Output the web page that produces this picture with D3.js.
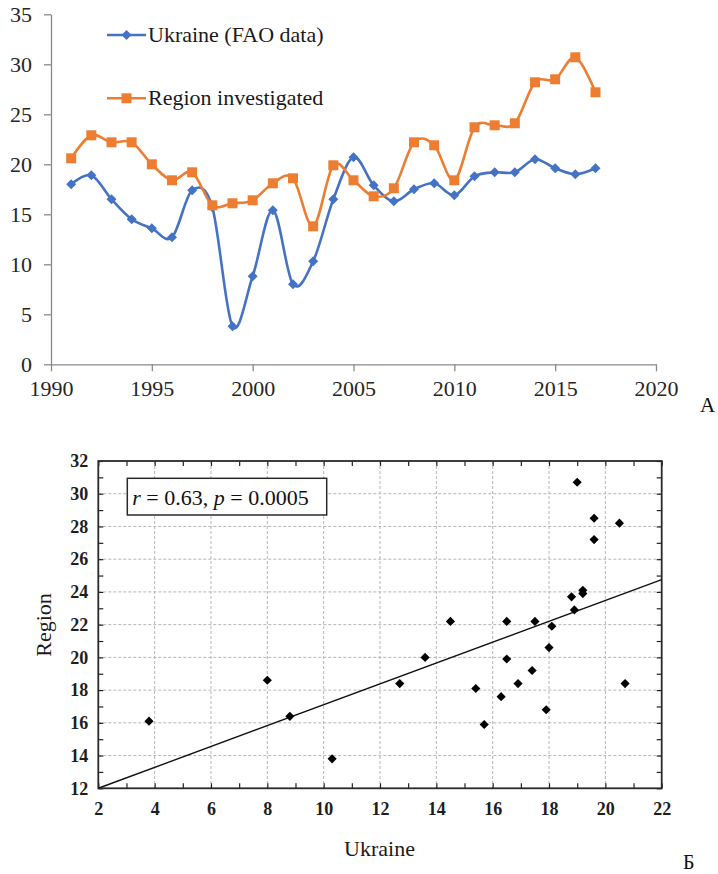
<!DOCTYPE html>
<html>
<head>
<meta charset="utf-8">
<script src="https://cdn.jsdelivr.net/npm/d3@7/dist/d3.min.js"></script>
<style>
  body { margin: 0; background: #fff; }
  svg { display: block; }
  text { font-family: "Liberation Serif", "Times New Roman", serif; }
</style>
</head>
<body>
<svg width="718" height="874"></svg>
<script>
//Data
var years = [1991, 1992, 1993, 1994, 1995, 1996, 1997, 1998, 1999, 2000, 2001, 2002, 2003, 2004,
             2005, 2006, 2007, 2008, 2009, 2010, 2011, 2012, 2013, 2014, 2015, 2016, 2017];
var ukraine = [18.0, 18.9, 16.5, 14.5, 13.6, 12.7, 17.4, 15.7, 3.8, 8.8, 15.4, 8.0, 10.3, 16.5,
               20.7, 17.9, 16.3, 17.5, 18.1, 16.9, 18.8, 19.2, 19.2, 20.5, 19.6, 19.0, 19.6];
var region = [20.6, 22.9, 22.2, 22.2, 20.0, 18.4, 19.2, 15.9, 16.1, 16.4, 18.1, 18.6, 13.8, 19.9,
              18.4, 16.8, 17.6, 22.2, 21.9, 18.4, 23.7, 23.9, 24.1, 28.2, 28.5, 30.7, 27.2];
var seriesNames = ["Ukraine (FAO data)", "Region investigated"];

//Tick labels
var yearTicks = [1990, 1995, 2000, 2005, 2010, 2015, 2020];
var valueTicks = [0, 5, 10, 15, 20, 25, 30, 35];
var ukraineTicks = [2, 4, 6, 8, 10, 12, 14, 16, 18, 20, 22];
var regionTicks = [12, 14, 16, 18, 20, 22, 24, 26, 28, 30, 32];

var blue = "#4472c4",
    orange = "#ed7d31";

var svg = d3.select("svg");

// ---------------- Chart A: time series ----------------
var xA = d3.scaleLinear().domain([1990, 2020]).range([51, 656]),
    yA = d3.scaleLinear().domain([0, 35]).range([364.3, 14.3]);

var gA = svg.append("g").attr("id", "chart-a");

//Y axis
var yAxisA = gA.append("g")
    .attr("transform", "translate(" + xA(1990) + ",0)")
    .call(d3.axisLeft(yA).tickValues(valueTicks).tickSize(7).tickSizeOuter(0).tickPadding(12));

//X axis
var xAxisA = gA.append("g")
    .attr("transform", "translate(0," + yA(0) + ")")
    .call(d3.axisBottom(xA).tickValues(yearTicks).tickSize(7).tickSizeOuter(0).tickPadding(9).tickFormat(d3.format("d")));

[yAxisA, xAxisA].forEach(function(ax) {
  ax.selectAll("path, line").attr("stroke", "#8a8a8a").attr("stroke-width", 1.3);
  ax.selectAll("text").attr("fill", "#262626").style("font-size", "22px");
});

//Smoothed lines like the Excel "smooth line" option
var lineA = d3.line()
    .curve(d3.curveCardinal)
    .x(function(d) { return xA(d.year); })
    .y(function(d) { return yA(d.value); });

var seriesA = [
  { name: seriesNames[0], color: blue, shape: "diamond",
    values: years.map(function(y, i) { return { year: y, value: ukraine[i] }; }) },
  { name: seriesNames[1], color: orange, shape: "square",
    values: years.map(function(y, i) { return { year: y, value: region[i] }; }) }
];

var diamond = d3.symbol().type(d3.symbolSquare).size(50),
    square = d3.symbol().type(d3.symbolSquare).size(100);

function markerPath(shape) { return shape === "diamond" ? diamond() : square(); }
function markerRot(shape) { return shape === "diamond" ? " rotate(45)" : ""; }

seriesA.forEach(function(s) {
  gA.append("path")
    .datum(s.values)
    .attr("fill", "none")
    .attr("stroke", s.color)
    .attr("stroke-width", 2.6)
    .attr("d", lineA);

  gA.selectAll(null)
    .data(s.values)
    .enter()
    .append("path")
    .attr("d", markerPath(s.shape))
    .attr("fill", s.color)
    .attr("transform", function(d) {
      return "translate(" + xA(d.year) + "," + yA(d.value) + ")" + markerRot(s.shape);
    });
});

//Legend
var legend = gA.selectAll(".legend")
    .data(seriesA)
    .enter()
    .append("g")
    .attr("class", "legend")
    .attr("transform", function(d, i) { return "translate(107," + (35 + i * 63.3) + ")"; });

legend.append("line")
    .attr("x1", 0).attr("x2", 39)
    .attr("stroke", function(d) { return d.color; })
    .attr("stroke-width", 2.6);
legend.append("path")
    .attr("d", function(d) { return markerPath(d.shape); })
    .attr("fill", function(d) { return d.color; })
    .attr("transform", function(d) { return "translate(19.5,0)" + markerRot(d.shape); });
legend.append("text")
    .attr("x", 41)
    .attr("y", 7)
    .attr("fill", "#1a1a1a")
    .style("font-size", "22px")
    .text(function(d) { return d.name; });

gA.append("text")
    .attr("x", 700).attr("y", 412)
    .attr("fill", "#111")
    .style("font-size", "21px")
    .text("A");

// ---------------- Chart B: scatter ----------------
var xB = d3.scaleLinear().domain([2, 22]).range([98.3, 661.7]),
    yB = d3.scaleLinear().domain([12, 32]).range([788.3, 461]);

var gB = svg.append("g").attr("id", "chart-b");

var pw = xB(22) - xB(2),
    ph = yB(12) - yB(32);

gB.append("clipPath")
    .attr("id", "clipB")
    .append("rect")
    .attr("x", xB(2)).attr("y", yB(32))
    .attr("width", pw).attr("height", ph);

//Dotted grid
gB.append("g")
    .selectAll("line")
    .data(ukraineTicks.slice(1, -1))
    .enter()
    .append("line")
    .attr("x1", function(d) { return xB(d); })
    .attr("x2", function(d) { return xB(d); })
    .attr("y1", yB(32)).attr("y2", yB(12))
    .attr("stroke", "#b5b5b5")
    .attr("stroke-dasharray", "3,2");
gB.append("g")
    .selectAll("line")
    .data(regionTicks.slice(1, -1))
    .enter()
    .append("line")
    .attr("y1", function(d) { return yB(d); })
    .attr("y2", function(d) { return yB(d); })
    .attr("x1", xB(2)).attr("x2", xB(22))
    .attr("stroke", "#b5b5b5")
    .attr("stroke-dasharray", "3,2");

//Inward ticks on all four sides (every unit)
var tickStyle = function(ax) {
  ax.select(".domain").remove();
  ax.selectAll("line").attr("stroke", "#222").attr("stroke-width", 1.2);
};
gB.append("g").attr("transform", "translate(0," + yB(12) + ")")
    .call(d3.axisBottom(xB).tickValues(xB.ticks(20)).tickSize(-5).tickFormat("")).call(tickStyle);
gB.append("g").attr("transform", "translate(0," + yB(32) + ")")
    .call(d3.axisTop(xB).tickValues(xB.ticks(20)).tickSize(-5).tickFormat("")).call(tickStyle);
gB.append("g").attr("transform", "translate(" + xB(2) + ",0)")
    .call(d3.axisLeft(yB).tickValues(yB.ticks(20)).tickSize(-5).tickFormat("")).call(tickStyle);
gB.append("g").attr("transform", "translate(" + xB(22) + ",0)")
    .call(d3.axisRight(yB).tickValues(yB.ticks(20)).tickSize(-5).tickFormat("")).call(tickStyle);

//Tick labels
var labStyle = function(ax) {
  ax.select(".domain").remove();
  ax.selectAll("text").attr("fill", "#1e1e1e").style("font-size", "18px").style("font-weight", "bold");
};
gB.append("g").attr("transform", "translate(0," + yB(12) + ")")
    .call(d3.axisBottom(xB).tickValues(ukraineTicks).tickSize(0).tickPadding(14)).call(labStyle);
gB.append("g").attr("transform", "translate(" + xB(2) + ",0)")
    .call(d3.axisLeft(yB).tickValues(regionTicks).tickSize(0).tickPadding(10)).call(labStyle);

//Frame
gB.append("rect")
    .attr("x", xB(2)).attr("y", yB(32))
    .attr("width", pw).attr("height", ph)
    .attr("fill", "none")
    .attr("stroke", "#2a2a2a")
    .attr("stroke-width", 1.8);

//Least squares regression line of Region on Ukraine
var mx = d3.mean(ukraine), my = d3.mean(region);
var sxy = d3.sum(ukraine, function(v, i) { return (v - mx) * (region[i] - my); }),
    sxx = d3.sum(ukraine, function(v) { return (v - mx) * (v - mx); });
var slope = sxy / sxx, icpt = my - slope * mx;
var fx0 = Math.max(2, (12 - icpt) / slope);

gB.append("line")
    .attr("clip-path", "url(#clipB)")
    .attr("x1", xB(fx0)).attr("y1", yB(icpt + slope * fx0))
    .attr("x2", xB(22)).attr("y2", yB(icpt + slope * 22))
    .attr("stroke", "#111")
    .attr("stroke-width", 1.4);

//Scatter points
gB.selectAll(".dot")
    .data(ukraine.map(function(u, i) { return [u, region[i]]; }))
    .enter()
    .append("path")
    .attr("class", "dot")
    .attr("d", d3.symbol().type(d3.symbolSquare).size(42)())
    .attr("fill", "#000")
    .attr("transform", function(d) { return "translate(" + xB(d[0]) + "," + yB(d[1]) + ") rotate(45)"; });

//Stats box
var box = gB.append("g").attr("transform", "translate(127.3,478.3)");
box.append("rect")
    .attr("width", 199.4).attr("height", 36.7)
    .attr("fill", "#fff")
    .attr("stroke", "#2a2a2a")
    .attr("stroke-width", 1.5);
var stat = box.append("text")
    .attr("x", 5).attr("y", 27)
    .attr("fill", "#111")
    .style("font-size", "22px");
stat.append("tspan").style("font-style", "italic").text("r");
stat.append("tspan").text(" = 0.63, ");
stat.append("tspan").style("font-style", "italic").text("p");
stat.append("tspan").text(" = 0.0005");

//Axis titles
gB.append("text")
    .attr("transform", "translate(50.5,625) rotate(-90)")
    .attr("text-anchor", "middle")
    .attr("fill", "#1a1a1a")
    .style("font-size", "22px")
    .text("Region");
gB.append("text")
    .attr("x", 379.5).attr("y", 856)
    .attr("text-anchor", "middle")
    .attr("fill", "#1a1a1a")
    .style("font-size", "22px")
    .text("Ukraine");
gB.append("text")
    .attr("x", 683).attr("y", 869)
    .attr("fill", "#111")
    .style("font-size", "20px")
    .text("Б");
</script>
</body>
</html>
